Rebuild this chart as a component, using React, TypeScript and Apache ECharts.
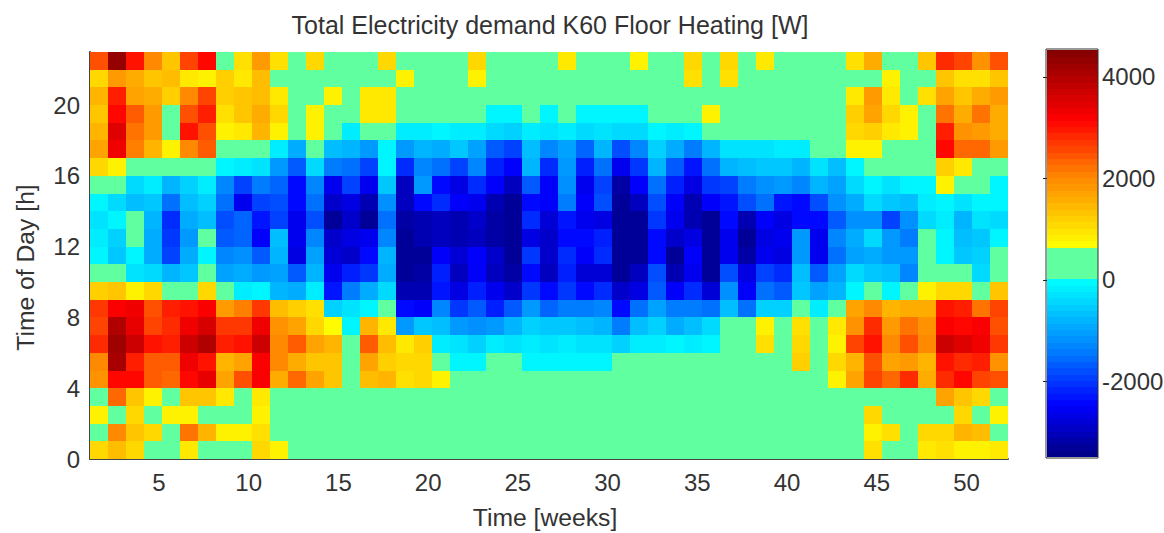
import React, { useEffect, useRef } from "react";
import * as echarts from "echarts";

const wattsPerUnit = 100;
const h22 = [25,43,30,20,13,26,31,3,10,18,10,3,11,3,3,3,11, 3,3,3,3,11,3,3,3,3,9,3,3,3,8,3,3,11, 3,11,3,9,3,3,3,3,10,16,5,3,13,28,26,19,25];
const h21 = [11,18,16,13,14,9,8,12,9,14,3,3,3,3,3,3,3, 8,3,3,3,8,3,3,3,3,3,3,3,3,3,3,3,10, 3,10,3,3,3,3,3,3,3,3,8,3,3,13,10,10,13];
const h20 = [15,29,17,16,12,20,26,12,13,14,9,3,3,8,3,9,9, 3,3,3,3,3,3,3,3,3,3,3,3,3,3,3,3,3, 3,3,3,3,3,3,3,3,9,18,9,3,10,17,13,16,18];
const h19 = [13,31,24,18,3,25,29,10,13,16,11,3,8,3,3,9,9, 3,3,3,3,3,-1,-1,3,-1,3,-1,-1,-1,-1,3,3,3, 8,3,3,3,3,3,3,3,12,17,11,8,3,22,16,22,16];
const h18 = [15,35,22,18,3,30,25,8,9,15,8,3,8,3,-2,3,3, -2,-2,-1,-2,-2,-4,-5,-2,-3,-2,-4,-3,-4,-4,-1,-2,-1, 3,3,3,3,3,3,3,3,11,12,9,8,3,29,19,18,16];
const h17 = [17,33,21,15,8,20,24,3,3,3,-2,-9,3,-7,-8,-11,-1, -11,-8,-9,-6,-10,-17,-19,-7,-13,-10,-16,-8,-18,-13,-5,-9,-14, -8,-3,-3,-3,-2,-2,3,3,8,8,3,3,3,31,23,23,18];
const h16 = [11,8,3,3,3,3,3,-1,-2,-3,-11,-17,-4,-14,-15,-19,-1, -21,-13,-15,-19,-13,-22,-25,-8,-21,-11,-22,-15,-26,-20,-8,-17,-23, -15,-8,-7,-6,-6,-8,-3,-7,-1,3,3,3,3,12,9,3,3];
const h15 = [3,3,-4,-2,-8,-5,-2,-13,-19,-14,-16,-24,-13,-26,-19,-26,-6, -30,-11,-24,-27,-21,-25,-30,-17,-25,-12,-26,-19,-32,-25,-15,-22,-27, -20,-19,-14,-12,-11,-13,-8,-10,-4,-1,-3,-1,-1,8,3,3,-1];
const h14 = [-1,-4,-7,-6,-15,-7,-5,-15,-26,-19,-18,-24,-15,-29,-27,-31,-12, -30,-24,-21,-25,-26,-31,-33,-24,-25,-14,-25,-18,-33,-30,-18,-25,-31, -25,-23,-18,-15,-23,-24,-18,-12,-9,-4,-6,-7,-2,-1,-3,-1,-1];
const h13 = [-3,-1,3,-8,-21,-9,-7,-18,-16,-23,-19,-26,-18,-33,-29,-33,-15, -32,-31,-30,-31,-29,-32,-33,-21,-28,-23,-26,-27,-33,-33,-20,-26,-31, -33,-24,-31,-25,-27,-24,-24,-17,-12,-12,-19,-12,-4,-2,-8,-3,-4];
const h12 = [-2,-5,3,-9,-20,-11,3,-17,-16,-25,-7,-26,-13,-29,-27,-26,-13, -33,-31,-30,-31,-30,-32,-33,-27,-29,-24,-24,-22,-33,-33,-24,-29,-27, -33,-26,-33,-27,-26,-11,-26,-13,-9,-4,-11,-14,3,-1,-7,-6,-1];
const h11 = [-1,-6,-1,-9,-19,-9,-1,-13,-12,-17,-8,-27,-10,-28,-29,-24,-8, -33,-33,-25,-28,-25,-29,-33,-20,-29,-21,-25,-21,-33,-33,-24,-33,-25, -33,-26,-32,-26,-27,-11,-26,-15,-10,-9,-11,-11,3,-1,-6,-5,3];
const h10 = [3,3,-3,-4,-8,-6,3,-10,-9,-11,-10,-17,-8,-26,-22,-20,-9, -33,-32,-22,-30,-25,-30,-32,-24,-30,-22,-28,-28,-33,-30,-18,-31,-26, -33,-18,-27,-19,-21,-7,-17,-10,-4,-6,-7,-13,3,3,3,-4,3];
const h09 = [12,13,8,11,5,4,11,3,-2,-1,-8,-9,-2,-23,-14,-9,-4, -31,-31,-23,-27,-22,-26,-29,-20,-24,-20,-24,-21,-29,-27,-17,-25,-21, -28,-12,-25,-15,-17,-6,-10,-8,-1,3,-1,3,8,11,11,3,13];
const h08 = [27,32,33,25,29,30,32,18,21,27,14,12,10,-5,-3,-1,3, -24,-25,-13,-20,-17,-22,-17,-11,-16,-14,-14,-13,-24,-15,-10,-14,-14, -15,-7,-15,-5,-5,3,-2,3,17,20,15,16,16,30,29,22,26];
const h07 = [26,40,34,26,28,33,36,27,27,33,19,17,11,7,-1,15,9, -11,-6,-7,-11,-12,-11,-8,-5,-6,-6,-7,-8,-14,-7,-5,-9,-7, -4,3,3,8,3,10,3,9,19,28,18,22,19,32,31,32,25];
const h06 = [28,42,37,30,29,37,40,29,30,37,20,24,17,15,3,24,14, 9,12,-2,-3,-5,-2,-3,-2,-3,-2,-3,-3,-5,-2,-2,-1,-2, -1,3,3,10,3,11,3,8,26,30,20,25,20,37,35,33,27];
const h05 = [20,41,29,24,24,33,30,15,17,32,20,16,13,13,3,17,12, 11,11,3,-1,-1,3,3,-1,-1,-1,-1,-1,3,3,3,3,3, 3,3,3,3,3,12,3,11,15,25,17,18,15,30,28,29,19];
const h04 = [19,31,31,24,23,31,34,17,25,32,16,23,17,13,3,14,15, 10,11,8,3,3,3,3,3,3,3,3,3,3,3,3,3,3, 3,3,3,3,3,3,3,8,17,26,23,28,16,28,31,26,25];
const h03 = [3,23,13,8,3,13,13,9,3,9,5,3,3,3,3,3,3, 3,3,3,3,3,3,3,3,3,3,3,3,3,3,3,3,3, 3,3,3,3,3,3,3,3,3,3,3,3,3,17,13,11,3];
const h02 = [8,4,11,3,8,8,3,3,3,8,3,3,3,3,3,3,3, 3,3,3,3,3,3,3,3,3,3,3,3,3,3,3,3,3, 3,3,3,3,3,3,3,3,3,11,3,3,3,3,11,3,8];
const h01 = [3,20,13,11,3,22,15,8,8,10,3,3,3,3,3,3,3, 3,3,3,3,3,3,3,3,3,3,3,3,3,3,3,3,3, 3,3,3,3,3,3,3,3,3,8,10,3,11,11,15,14,3];
const h00 = [11,14,11,3,5,9,5,3,3,11,8,3,3,3,3,3,3, 3,3,3,3,3,3,3,3,3,3,3,3,3,3,3,3,3, 3,3,3,3,3,3,3,3,3,10,3,3,9,10,8,8,9];
const hourRows = [h00,h01,h02,h03,h04,h05,h06,h07,h08,h09,h10,h11,h12,h13,h14,h15,h16,h17,h18,h19,h20,h21,h22];

const weekMin = 1.16;
const weekMax = 52.31;
const weekTicks = [5,10,15,20,25,30,35,40,45,50];
const hourTicks = [0,4,8,12,16,20];
const colorbarTicks = [-2000,0,2000,4000];
const colorMin = -3488;
const colorMax = 4532;

// Colour scale: [watts, r, g, b]
const belowZero = [[-3488,0,0,130],[-2470,0,0,255],[-1370,0,128,255],[0,0,255,255]];
const bandColor = "#60ff9f";
const bandTop = 650;
const aboveBand = [[650,255,255,0],[2100,255,128,0],[3150,255,0,0],[4532,128,0,0]];

function ramp(stops: number[][], v: number) {
  for (let i = 0; i < stops.length - 1; i++) {
    const a = stops[i], b = stops[i + 1];
    if (v <= b[0]) {
      const t = Math.max(0, (v - a[0]) / (b[0] - a[0]));
      return `rgb(${[1,2,3].map((k) => Math.round(a[k] + (b[k] - a[k]) * t)).join(",")})`;
    }
  }
  const l = stops[stops.length - 1];
  return `rgb(${l[1]},${l[2]},${l[3]})`;
}
function colorOf(v: number) {
  if (v < 0) return ramp(belowZero, v);
  if (v < bandTop) return bandColor;
  return ramp(aboveBand, v);
}

const columnWidth = (weekMax - weekMin) / 51;
const cells: number[][] = [];
hourRows.forEach((row, h) => row.forEach((u, w) => cells.push([weekMin + w * columnWidth, h, u * wattsPerUnit])));

const levelStep = 125;
const levels: number[][] = [];
for (let v = colorMin; v < colorMax; v += levelStep) levels.push([v, Math.min(v + levelStep, colorMax)]);

const font = "Liberation Sans";
const ink = "#333333";
const plainNumber = (v: number) => String(v);

export default function App() {
  const ref = useRef<HTMLDivElement>(null);
  useEffect(() => {
    const chart = echarts.init(ref.current!, null, { renderer: "svg" });
    const axisLabel = { fontFamily: font, fontSize: 24, color: ink, formatter: plainNumber };
    chart.setOption({
      animation: false,
      backgroundColor: "#ffffff",
      title: {
        text: "Total Electricity demand K60 Floor Heating [W]",
        left: 545, top: 7, textAlign: "center",
        textStyle: { fontFamily: font, fontSize: 25, fontWeight: "normal", color: ink },
      },
      grid: [
        { left: 90, top: 52, width: 918, height: 407, outerBoundsMode: "none" },
        { left: 1047, top: 50, width: 51, height: 407, outerBoundsMode: "none" },
      ],
      xAxis: [
        {
          type: "value", gridIndex: 0, min: weekMin, max: weekMax,
          name: "Time [weeks]", nameLocation: "middle", nameGap: 46,
          nameTextStyle: { fontFamily: font, fontSize: 24.7, color: ink, padding: [0, 8, 0, 0] },
          axisLine: { show: true, lineStyle: { color: "#444", width: 2 } },
          axisTick: { show: false },
          axisLabel: { ...axisLabel, margin: 11, customValues: weekTicks },
          splitLine: { show: false },
        },
        {
          type: "value", gridIndex: 1, min: 0, max: 1,
          axisLine: { show: false }, axisTick: { show: false }, axisLabel: { show: false }, splitLine: { show: false },
        },
      ],
      yAxis: [
        {
          type: "value", gridIndex: 0, min: 0, max: 23,
          name: "Time of Day [h]", nameLocation: "middle", nameGap: 52,
          nameTextStyle: { fontFamily: font, fontSize: 24.7, color: ink, padding: [0, 24, 0, 0] },
          axisLine: { show: true, lineStyle: { color: "#444", width: 2 } },
          axisTick: { show: false },
          axisLabel: { ...axisLabel, margin: 10, customValues: hourTicks },
          splitLine: { show: false },
        },
        {
          type: "value", gridIndex: 1, min: colorMin, max: colorMax, position: "right",
          axisLine: { show: false },
          axisTick: { show: true, inside: true, length: 4, customValues: colorbarTicks, lineStyle: { color: "#222", width: 1 } },
          axisLabel: { ...axisLabel, margin: 4, customValues: colorbarTicks, padding: [6, 0, 0, 0] },
          splitLine: { show: false },
        },
      ],
      series: [
        {
          type: "custom", xAxisIndex: 0, yAxisIndex: 0, silent: true, data: cells, clip: true,
          encode: { x: 0, y: 1 },
          renderItem: (_: any, api: any) => {
            const w = api.value(0), h = api.value(1);
            const a = api.coord([w, h + 1]);
            const b = api.coord([w + columnWidth, h]);
            const x0 = Math.round(a[0]), y0 = Math.round(a[1]);
            return {
              type: "rect",
              shape: { x: x0, y: y0, width: Math.round(b[0]) - x0, height: Math.round(b[1]) - y0 },
              style: { fill: colorOf(api.value(2)), stroke: null },
            };
          },
        },
        {
          type: "custom", xAxisIndex: 1, yAxisIndex: 1, silent: true, data: levels,
          encode: { y: [0, 1] },
          renderItem: (_: any, api: any) => {
            const lo = api.value(0), hi = api.value(1);
            const a = api.coord([0, hi]);
            const b = api.coord([1, lo]);
            const y0 = Math.round(a[1]);
            return {
              type: "rect",
              shape: { x: a[0], y: y0, width: b[0] - a[0], height: Math.round(b[1]) - y0 },
              style: { fill: colorOf((lo + hi) / 2), stroke: null },
            };
          },
        },
      ],
      graphic: [
        { type: "rect", shape: { x: 1046, y: 49, width: 52, height: 409 }, style: { fill: "none", stroke: "#333", lineWidth: 1 }, silent: true, z: 10 },
      ],
    });
    return () => chart.dispose();
  }, []);
  return <div ref={ref} style={{ position: "absolute", left: 0, top: 0, width: 1164, height: 533 }} />;
}
